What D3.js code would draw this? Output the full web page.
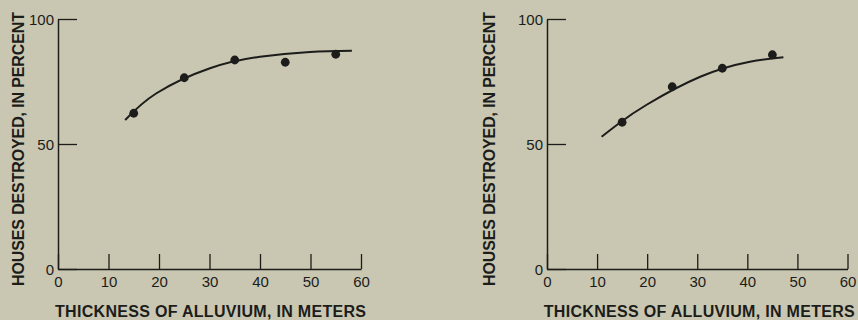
<!DOCTYPE html>
<html>
<head>
<meta charset="utf-8">
<script src="https://cdn.jsdelivr.net/npm/d3@7"></script>
<style>
  html, body { margin: 0; padding: 0; background: #c9c7b1; }
  svg { display: block; }
  text { fill: #1c1c1a; font-family: "Liberation Sans", Arial, sans-serif; }
</style>
</head>
<body>
<svg id="chart" width="858" height="320"></svg>
<script>
// Observed points, left panel
const thicknessA = [15, 25, 35, 45, 55];
const destroyedA = [62.3, 76.5, 83.6, 82.7, 85.9];
// Fitted curve, left panel
const curveAX = [13.3, 19.5, 30.1, 40.0, 49.9, 58.2];
const curveAY = [59.6, 70.3, 80.3, 84.9, 86.8, 87.3];

// Observed points, right panel
const thicknessB = [15, 25, 35, 45];
const destroyedB = [58.7, 72.9, 80.3, 85.7];
// Fitted curve, right panel
const curveBX = [10.9, 14.6, 19.9, 30.6, 40.5, 47.2];
const curveBY = [52.9, 58.6, 65.7, 76.9, 82.9, 84.7];

// Axis ticks
const xTicks = [0, 10, 20, 30, 40, 50, 60];
const yTicks = [0, 50, 100];

const xTitle = "THICKNESS OF ALLUVIUM, IN METERS";
const yTitle = "HOUSES DESTROYED, IN PERCENT";

const INK = "#1c1c1a";
const svg = d3.select("#chart");

const panels = [
  { x0: 58,  x1: 361,   yTitleX: 17.5, xTitleDx: 1,
    px: thicknessA, py: destroyedA, cx: curveAX, cy: curveAY },
  { x0: 547, x1: 847.5, yTitleX: 489,  xTitleDx: 2,
    px: thicknessB, py: destroyedB, cx: curveBX, cy: curveBY }
];

const yTop = 19, yBottom = 269;

panels.forEach(p => {
  const x = d3.scaleLinear().domain([0, 60]).range([p.x0, p.x1]);
  const y = d3.scaleLinear().domain([0, 100]).range([yBottom, yTop]);
  const g = svg.append("g");

  // x axis: ticks point up into the plot
  const gx = g.append("g")
    .attr("transform", `translate(0,${yBottom})`)
    .call(d3.axisBottom(x).tickValues(xTicks).tickSize(-15).tickSizeOuter(0).tickPadding(7));
  // y axis: ticks point right into the plot
  const gy = g.append("g")
    .attr("transform", `translate(${p.x0},0)`)
    .call(d3.axisLeft(y).tickValues(yTicks).tickSize(-19).tickSizeOuter(0).tickPadding(4));

  [gx, gy].forEach(a => {
    a.attr("font-size", 15).attr("font-family", '"Liberation Sans", Arial, sans-serif');
    a.select(".domain").attr("stroke", INK).attr("stroke-width", 1.5);
    a.selectAll(".tick line").attr("stroke", INK).attr("stroke-width", 1.3);
    a.selectAll(".tick text")
      .attr("fill", INK)
      .attr("font-size", 15);
  });
  gy.selectAll(".tick text").attr("dy", "0.34em");

  // fitted curve
  const line = d3.line()
    .x(i => x(p.cx[i]))
    .y(i => y(p.cy[i]))
    .curve(d3.curveNatural);
  g.append("path")
    .attr("d", line(d3.range(p.cx.length)))
    .attr("fill", "none")
    .attr("stroke", INK)
    .attr("stroke-width", 2);

  // observed points
  g.selectAll("circle.pt")
    .data(d3.range(p.px.length))
    .join("circle")
    .attr("class", "pt")
    .attr("cx", i => x(p.px[i]))
    .attr("cy", i => y(p.py[i]))
    .attr("r", 4.4)
    .attr("fill", INK);

  // axis titles
  const xMid = (p.x0 + p.x1) / 2 + p.xTitleDx;
  g.append("text")
    .attr("x", xMid)
    .attr("y", 317)
    .attr("text-anchor", "middle")
    .attr("textLength", 311)
    .attr("lengthAdjust", "spacing")
    .attr("font-size", 16)
    .attr("font-weight", "bold")
    .text(xTitle);

  g.append("text")
    .attr("transform", `translate(${p.yTitleX + 6},149) rotate(-90)`)
    .attr("text-anchor", "middle")
    .attr("textLength", 274)
    .attr("lengthAdjust", "spacing")
    .attr("font-size", 16)
    .attr("font-weight", "bold")
    .text(yTitle);
});
</script>
</body>
</html>
